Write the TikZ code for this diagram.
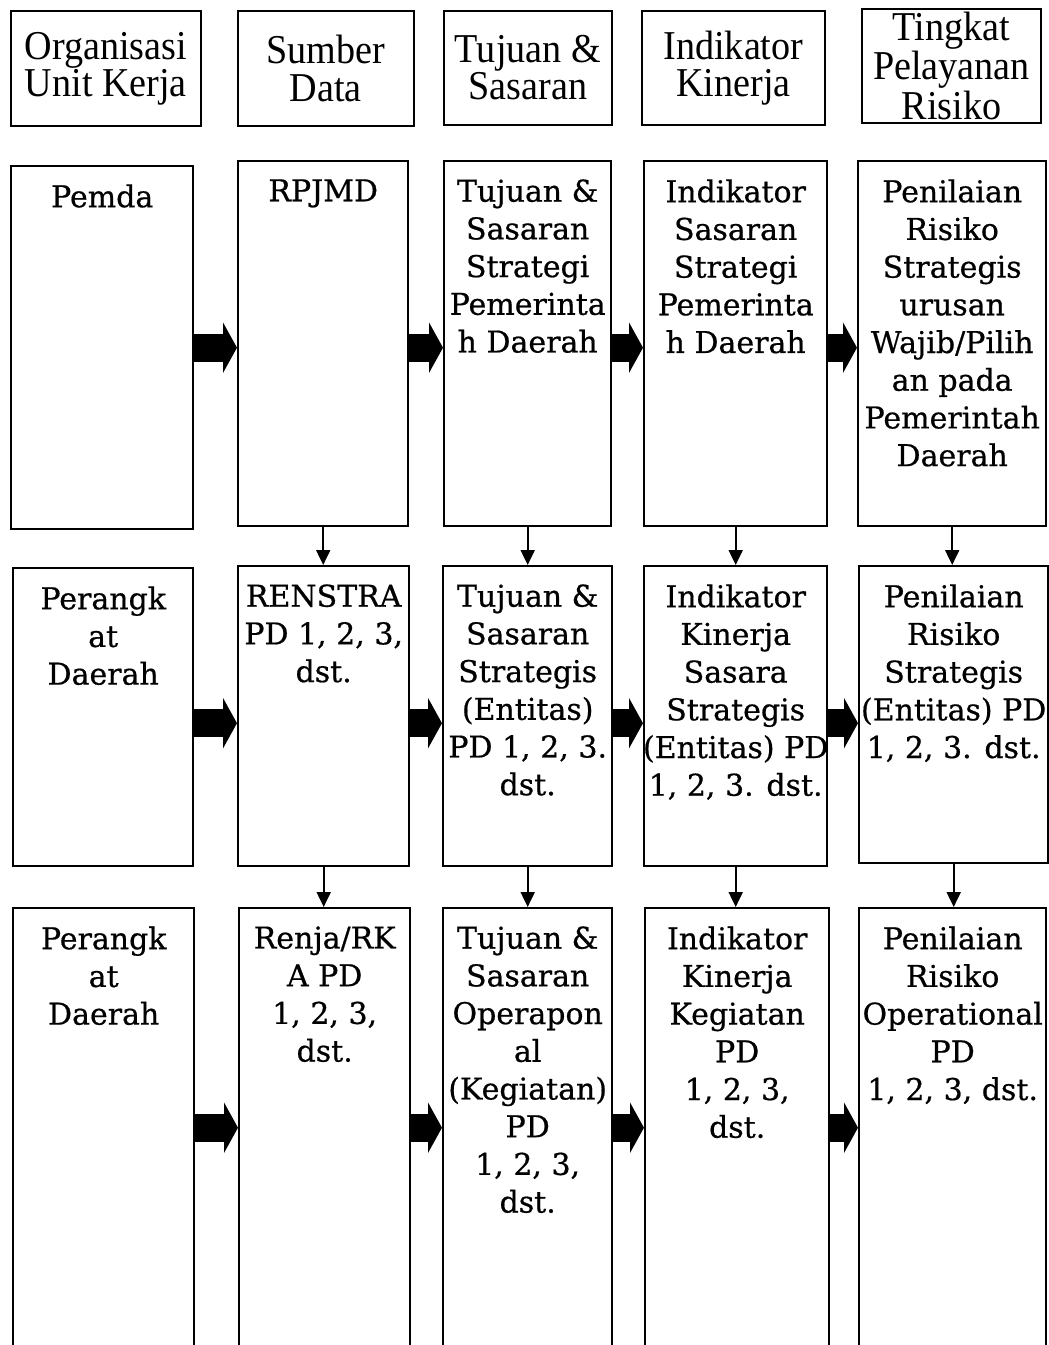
\documentclass[tikz,border=0pt]{standalone}
\usepackage{fontspec}
\setmainfont{DejaVu Serif}[FakeBold=0.6]
\newfontfamily\hdrfont{Liberation Serif}[FakeStretch=0.93]
\usetikzlibrary{arrows.meta}
\newcommand\bx[7]{\node[#6, anchor=north west, minimum width={(#4-#2)*0.5pt}, minimum height={(#5-#3)*0.5pt}] (#1) at (#2,#3) {#7};}
\newcommand\tx[2]{\node[bodytext] (t#1) at ([yshift=-9.5pt]#1.north) {#2};}
\tikzset{
  hdrbox/.style={draw, line width=0.9pt, inner sep=0pt, align=center, font=\hdrfont\fontsize{20.5}{18.6}\selectfont},
  rowbox/.style={draw, line width=1.2pt, inner sep=0pt},
  bodytext/.style={anchor=north, inner sep=0pt, align=center, font=\fontsize{15}{18.85}\selectfont},
  bigarrow/.style={line width=14pt, -{Triangle[width=25pt,length=7pt]}},
  smallarrow/.style={line width=1pt, -{Triangle[width=7pt,length=7.5pt]}}
}
\begin{document}
\begin{tikzpicture}[x=0.5pt,y=-0.5pt]
\useasboundingbox (0,0) rectangle (1049,1345);
\clip (0,0) rectangle (1049,1345);
\fill[white] (0,0) rectangle (1049,1345);
% header
\bx{h1}{10}{10}{200}{125}{hdrbox}{Organisasi\\Unit Kerja}
\bx{h2}{237}{10}{413}{125}{hdrbox}{Sumber\\Data}
\bx{h3}{443}{10}{611}{124}{hdrbox}{Tujuan \&\\Sasaran}
\bx{h4}{641}{10}{824}{124}{hdrbox}{Indikator\\Kinerja}
\bx{h5}{861}{8}{1040}{122}{hdrbox}{Tingkat\\Pelayanan\\Risiko}
% row 1
\bx{b11}{10}{165}{192}{528}{rowbox}{}
\bx{b12}{237}{160}{407}{525}{rowbox}{}
\bx{b13}{443}{160}{610}{525}{rowbox}{}
\bx{b14}{643}{160}{826}{525}{rowbox}{}
\bx{b15}{857}{160}{1045}{525}{rowbox}{}
% row 2
\bx{b21}{12}{567}{192}{865}{rowbox}{}
\bx{b22}{237}{565}{408}{865}{rowbox}{}
\bx{b23}{442}{565}{611}{865}{rowbox}{}
\bx{b24}{643}{565}{826}{865}{rowbox}{}
\bx{b25}{858}{565}{1047}{862}{rowbox}{}
% row 3
\bx{b31}{12}{907}{193}{1350}{rowbox}{}
\bx{b32}{238}{907}{409}{1350}{rowbox}{}
\bx{b33}{442}{907}{611}{1350}{rowbox}{}
\bx{b34}{644}{907}{828}{1350}{rowbox}{}
\bx{b35}{858}{907}{1045}{1350}{rowbox}{}
% texts
\tx{b11}{Pemda}
\tx{b12}{RPJMD}
\tx{b13}{Tujuan \&\\Sasaran\\Strategi\\Pemerinta\\h Daerah}
\tx{b14}{Indikator\\Sasaran\\Strategi\\Pemerinta\\h Daerah}
\tx{b15}{Penilaian\\Risiko\\Strategis\\urusan\\Wajib/Pilih\\an pada\\Pemerintah\\Daerah}
\tx{b21}{Perangk\\at\\Daerah}
\tx{b22}{RENSTRA\\PD 1, 2, 3,\\dst.}
\tx{b23}{Tujuan \&\\Sasaran\\Strategis\\(Entitas)\\PD 1, 2, 3.\\dst.}
\tx{b24}{Indikator\\Kinerja\\Sasara\\Strategis\\(Entitas) PD\\1, 2, 3. dst.}
\tx{b25}{Penilaian\\Risiko\\Strategis\\(Entitas) PD\\1, 2, 3. dst.}
\tx{b31}{Perangk\\at\\Daerah}
\tx{b32}{Renja/RK\\A PD\\1, 2, 3,\\dst.}
\tx{b33}{Tujuan \&\\Sasaran\\Operapon\\al\\(Kegiatan)\\PD\\1, 2, 3,\\dst.}
\tx{b34}{Indikator\\Kinerja\\Kegiatan\\PD\\1, 2, 3,\\dst.}
\tx{b35}{Penilaian\\Risiko\\Operational\\PD\\1, 2, 3, dst.}
% big arrows
\draw[bigarrow] (b11.east) -- (b11.east -| b12.west);
\draw[bigarrow] (b11.east -| b12.east) -- (b11.east -| b13.west);
\draw[bigarrow] (b11.east -| b13.east) -- (b11.east -| b14.west);
\draw[bigarrow] (b11.east -| b14.east) -- (b11.east -| b15.west);
\coordinate (r2) at ([yshift=-3pt]b21.east);
\draw[bigarrow] (r2) -- (r2 -| b22.west);
\draw[bigarrow] (r2 -| b22.east) -- (r2 -| b23.west);
\draw[bigarrow] (r2 -| b23.east) -- (r2 -| b24.west);
\draw[bigarrow] (r2 -| b24.east) -- (r2 -| b25.west);
\coordinate (r3) at ([yshift=1pt]b31.east);
\draw[bigarrow] (r3) -- (r3 -| b32.west);
\draw[bigarrow] (r3 -| b32.east) -- (r3 -| b33.west);
\draw[bigarrow] (r3 -| b33.east) -- (r3 -| b34.west);
\draw[bigarrow] (r3 -| b34.east) -- (r3 -| b35.west);
% small arrows
\foreach \c in {2,3,4,5}{
  \draw[smallarrow] (b1\c.south) -- (b1\c.south |- b2\c.north);
  \draw[smallarrow] (b2\c.south) -- (b2\c.south |- b3\c.north);
}
\end{tikzpicture}
\end{document}
